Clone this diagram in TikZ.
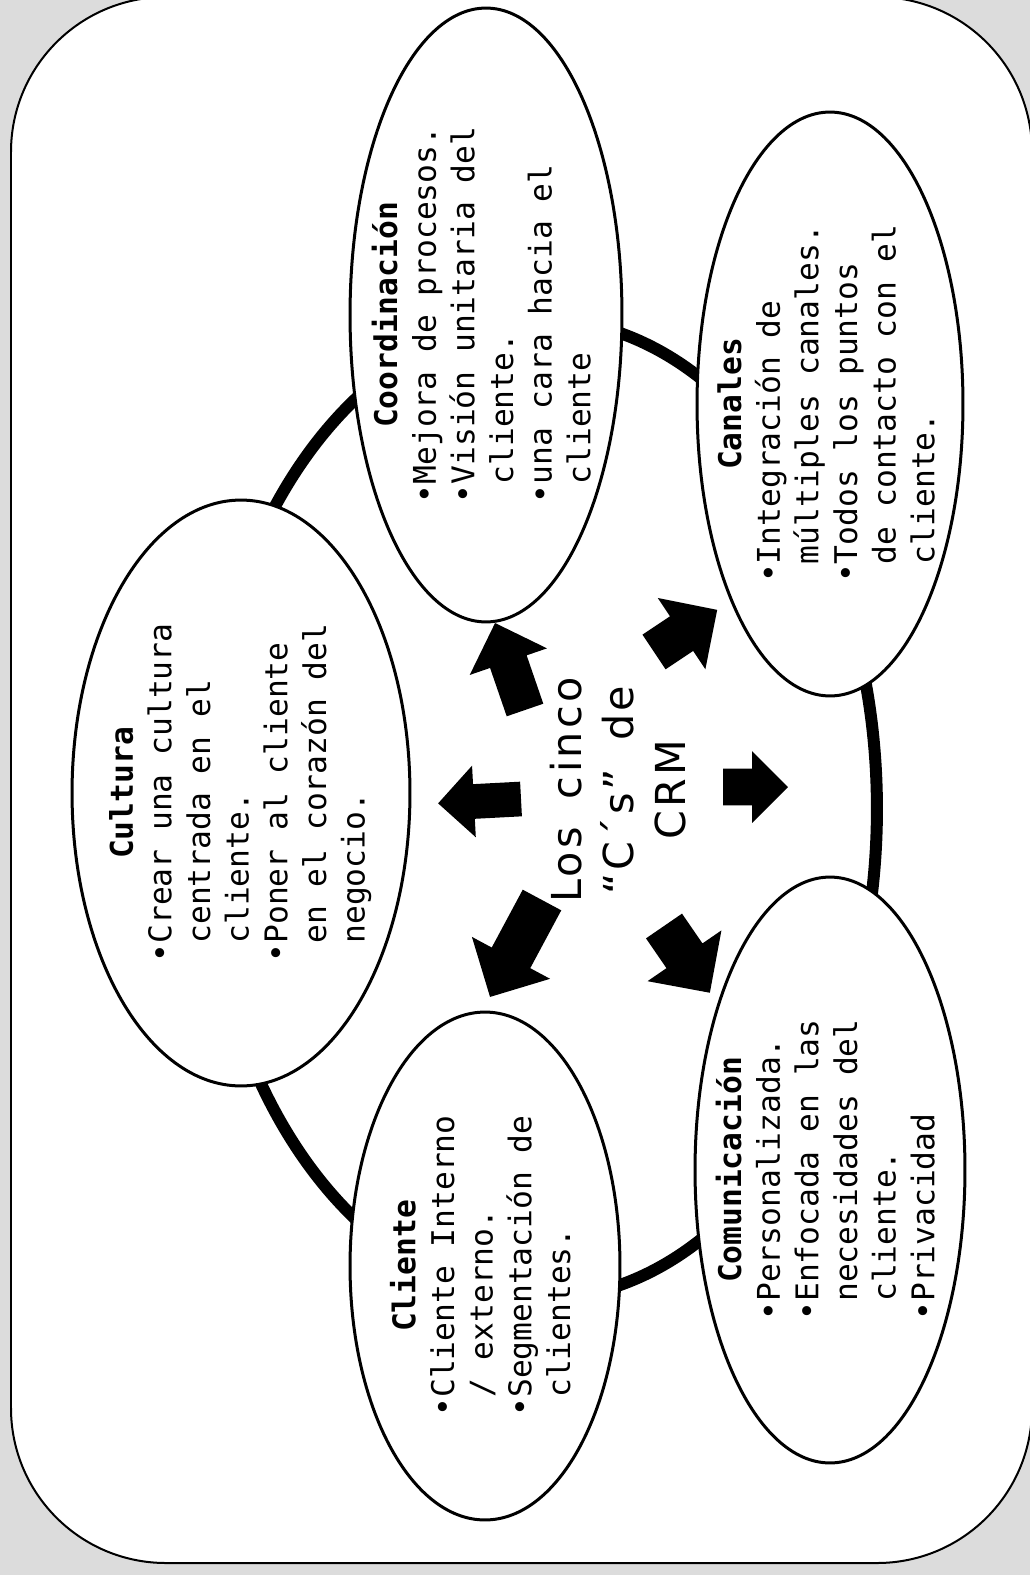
\documentclass[tikz,border=0pt]{standalone}
\usepackage{fontspec}
\newfontfamily\monofont{DejaVu Sans Mono}
\newfontfamily\titlefont[LetterSpace=8,WordSpace=1.7]{DejaVu Sans}
\usetikzlibrary{shapes.geometric,shapes.arrows}
\definecolor{fondo}{RGB}{220,220,220}
\newcommand{\indt}{\phantom{•}}

\begin{document}
\begin{tikzpicture}[x=0.02cm, y=-0.02cm,
  bubble/.style={ellipse, draw, fill=white, line width=0.06cm, inner sep=0pt},
  bubbletext/.style={rotate=90, inner sep=0pt, font=\monofont\fontsize{17.8pt}{22pt}\selectfont},
  blockarrow/.style={single arrow, fill=black, inner xsep=0pt, outer sep=0pt,
    minimum width=0pt, single arrow tip angle=90, anchor=tail}]
  % 배경
  \useasboundingbox (0,0) rectangle (1030,1575);
  \fill[fondo] (0,0) rectangle (1030,1575);
  \draw[fill=white, line width=0.04cm, rounded corners=3.1cm] (11,-3) rectangle (1032,1563);
  % 고리
  \node[ellipse, draw, line width=0.24cm, inner sep=0pt,
    minimum width=13.48cm, minimum height=19.6cm] (anillo) at (540,809) {};
  % 타원
  \node[bubble, minimum width=5.44cm, minimum height=12.28cm] (coord) at (486,315) {};
  \node[bubble, minimum width=5.32cm, minimum height=11.68cm] (canal) at (830,404) {};
  \node[bubble, minimum width=5.4cm, minimum height=11.72cm] (comun) at (830,1170) {};
  \node[bubble, minimum width=5.4cm, minimum height=10.16cm] (cliente) at (485,1266) {};
  \node[bubble, minimum width=6.76cm, minimum height=11.72cm] (cultura) at (241,793) {};
  % 글
  \node[bubbletext] (coordtxt) at (coord) {\begin{tabular}{@{}l@{}}
    \multicolumn{1}{@{}c@{}}{\bfseries Coordinación}\\
    •Mejora de procesos.\\
    •Visión unitaria del\\
    \indt cliente.\\
    •una cara hacia el\\
    \indt cliente\end{tabular}};
  \node[bubbletext] (canaltxt) at (canal) {\begin{tabular}{@{}l@{}}
    \multicolumn{1}{@{}c@{}}{\bfseries Canales}\\
    •Integración de\\
    \indt múltiples canales.\\
    •Todos los puntos\\
    \indt de contacto con el\\
    \indt cliente.\end{tabular}};
  \node[bubbletext] (comuntxt) at (comun) {\begin{tabular}{@{}l@{}}
    \multicolumn{1}{@{}c@{}}{\bfseries Comunicación}\\
    •Personalizada.\\
    •Enfocada en las\\
    \indt necesidades del\\
    \indt cliente.\\
    •Privacidad\end{tabular}};
  \node[bubbletext] (clientetxt) at (cliente) {\begin{tabular}{@{}l@{}}
    \multicolumn{1}{@{}c@{}}{\bfseries Cliente}\\
    •Cliente Interno\\
    \indt/ externo.\\
    •Segmentación de\\
    \indt clientes.\end{tabular}};
  \node[bubbletext] (culturatxt) at (cultura) {\begin{tabular}{@{}l@{}}
    \multicolumn{1}{@{}c@{}}{\bfseries Cultura}\\
    •Crear una cultura\\
    \indt centrada en el\\
    \indt cliente.\\
    •Poner al cliente\\
    \indt en el corazón del\\
    \indt negocio.\end{tabular}};
  \node[rotate=90, align=center, inner sep=0pt,
    font=\titlefont\fontsize{23.5pt}{29.5pt}\selectfont] (titulo) at (618,790)
    {Los cinco\\“C´s” de\\CRM};
  % 화살표
  \node[blockarrow, rotate=109, minimum height=1.84cm, inner ysep=0.38cm,
    single arrow head extend=0.43cm] (acoord) at (525,710) {};
  \node[blockarrow, rotate=33.7, minimum height=1.52cm, inner ysep=0.41cm,
    single arrow head extend=0.44cm] (acanal) at (654,652) {};
  \node[blockarrow, rotate=183, minimum height=1.66cm, inner ysep=0.34cm,
    single arrow head extend=0.37cm] (acultura) at (521,799) {};
  \node[blockarrow, rotate=0, minimum height=1.3cm, inner ysep=0.36cm,
    single arrow head extend=0.35cm] (aderecha) at (723,787) {};
  \node[blockarrow, rotate=-118.2, minimum height=2.2cm, inner ysep=0.43cm,
    single arrow head extend=0.45cm] (acliente) at (542,900) {};
  \node[blockarrow, rotate=-55.5, minimum height=1.62cm, inner ysep=0.43cm,
    single arrow head extend=0.46cm] (acomun) at (664,926) {};
\end{tikzpicture}
\end{document}
